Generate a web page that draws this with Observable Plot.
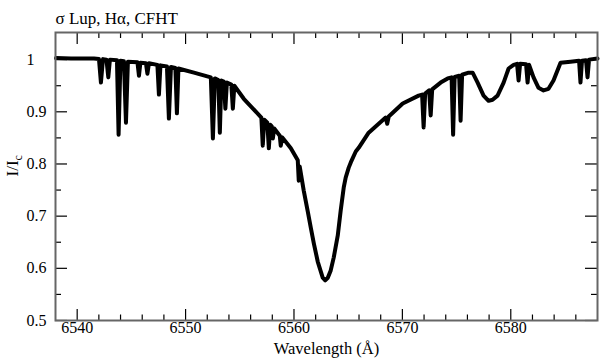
<!DOCTYPE html>
<html><head><meta charset="utf-8">
<script src="https://cdn.jsdelivr.net/npm/d3@7"></script>
<script src="https://cdn.jsdelivr.net/npm/@observablehq/plot@0.6"></script>
<style>
html,body{margin:0;padding:0;background:#fff;}
#chart svg{display:block;}
</style>
</head><body><div id="chart"></div>
<script>
// Spectrum (wavelength in Å, normalised flux I/Ic)
const wavelength = [
6538.05,6539.43,6541.55,6542.01,6542.19,6542.38,6542.70,6542.87,6543.02,6543.67,
6543.82,6543.99,6544.31,6544.50,6544.68,6545.56,6545.70,6545.83,6546.34,6546.48,
6546.62,6547.40,6547.54,6547.68,6548.28,6548.46,6548.65,6549.06,6549.20,6549.34,
6550.77,6552.33,6552.52,6552.70,6553.02,6553.16,6553.30,6553.53,6553.67,6553.81,
6554.22,6554.36,6554.50,6555.37,6556.99,6557.12,6557.26,6557.54,6557.68,6557.82,
6557.95,6558.05,6558.18,6558.69,6558.78,6558.92,6559.71,6560.35,6560.44,6560.53,
6560.90,6561.27,6561.55,6561.83,6562.19,6562.47,6562.65,6562.88,6563.12,6563.39,
6563.67,6564.04,6564.31,6564.59,6564.77,6565.05,6565.24,6565.70,6565.97,6566.89,
6568.46,6568.60,6568.74,6570.03,6571.50,6571.82,6571.96,6572.10,6572.47,6572.61,
6572.75,6573.53,6574.18,6574.54,6574.68,6574.82,6575.24,6575.37,6575.51,6576.11,
6576.48,6576.94,6577.49,6577.95,6578.32,6578.78,6579.34,6579.80,6580.26,6580.58,
6580.72,6580.86,6581.41,6581.55,6581.69,6582.10,6582.56,6583.02,6583.48,6583.94,
6584.59,6585.51,6586.30,6586.43,6586.57,6586.94,6587.08,6587.22,6588.00
];
const flux = [
1.003,1.002,1.002,1.001,0.956,1.001,1.000,0.966,1.000,0.999,
0.856,0.998,0.997,0.879,0.996,0.995,0.969,0.994,0.993,0.973,
0.993,0.990,0.933,0.989,0.987,0.887,0.986,0.984,0.897,0.983,
0.975,0.966,0.849,0.964,0.961,0.860,0.960,0.958,0.906,0.956,
0.952,0.906,0.950,0.925,0.889,0.835,0.885,0.879,0.830,0.875,
0.872,0.849,0.868,0.854,0.835,0.851,0.830,0.807,0.768,0.795,
0.749,0.709,0.678,0.648,0.613,0.594,0.582,0.577,0.582,0.596,
0.621,0.663,0.711,0.755,0.774,0.793,0.803,0.824,0.831,0.860,
0.889,0.877,0.891,0.916,0.931,0.933,0.870,0.935,0.941,0.893,
0.943,0.956,0.964,0.966,0.856,0.967,0.969,0.883,0.971,0.975,
0.975,0.956,0.931,0.921,0.923,0.931,0.956,0.983,0.990,0.992,
0.960,0.992,0.991,0.956,0.990,0.966,0.946,0.941,0.944,0.960,
0.994,0.996,0.998,0.956,0.998,0.999,0.966,1.000,1.002
];

const xMajor = [6540, 6550, 6560, 6570, 6580];
const xMinor = [6542,6544,6546,6548,6552,6554,6556,6558,6562,6564,6566,6568,6572,6574,6576,6578,6582,6584,6586];
const yMajor = [0.5, 0.6, 0.7, 0.8, 0.9, 1.0];
const yMinor = [0.55, 0.65, 0.75, 0.85, 0.95];
const yTickLabels = ["0.5", "0.6", "0.7", "0.8", "0.9", "1"];
const xTickLabels = ["6540", "6550", "6560", "6570", "6580"];
const xDomain = [6538, 6588];
const yDomain = [0.5, 1.052];
const titleText = "σ Lup, Hα, CFHT";
const xLabelText = "Wavelength (Å)";
const yLabelMain = "I/I";
const yLabelSub = "c";

const spectrum = wavelength.map((w, i) => ({w, f: flux[i]}));
const xTicks = xMajor.map((v, i) => ({v, label: xTickLabels[i]}));
const yTicks = yMajor.map((v, i) => ({v, label: yTickLabels[i]}));
const font = "'Liberation Serif', 'Times New Roman', serif";

const W = 600, H = 364, mL = 55, mR = 3, mT = 32, mB = 44;
const fw = W - mL - mR, fh = H - mT - mB;
const tick = "#000";

const chart = Plot.plot({
  width: W,
  height: H,
  marginLeft: mL,
  marginRight: mR,
  marginTop: mT,
  marginBottom: mB,
  style: {fontFamily: font, fontSize: "16px", background: "#fff", color: "#000"},
  x: {domain: xDomain, label: null, axis: null},
  y: {domain: yDomain, label: null, axis: null},
  marks: [
    Plot.line(spectrum, {x: "w", y: "f", stroke: "#000", strokeWidth: 4, strokeLinejoin: "round", strokeLinecap: "round"}),
    // inward ticks on all four sides
    Plot.ruleX(xMajor, {x: d => d, insetTop: fh - 11, stroke: tick, strokeWidth: 1.2}),
    Plot.ruleX(xMinor, {x: d => d, insetTop: fh - 5.5, stroke: tick, strokeWidth: 1.2}),
    Plot.ruleX(xMajor, {x: d => d, insetBottom: fh - 12, stroke: tick, strokeWidth: 1.2}),
    Plot.ruleX(xMinor, {x: d => d, insetBottom: fh - 6, stroke: tick, strokeWidth: 1.2}),
    Plot.ruleY(yMajor, {y: d => d, insetRight: fw - 12, stroke: tick, strokeWidth: 1.2}),
    Plot.ruleY(yMinor, {y: d => d, insetRight: fw - 6, stroke: tick, strokeWidth: 1.2}),
    Plot.ruleY(yMajor, {y: d => d, insetLeft: fw - 12, stroke: tick, strokeWidth: 1.2}),
    Plot.ruleY(yMinor, {y: d => d, insetLeft: fw - 6, stroke: tick, strokeWidth: 1.2}),
    Plot.frame({stroke: "#666", strokeWidth: 2}),
    // tick labels
    Plot.text(xTicks, {x: "v", text: "label", frameAnchor: "bottom", dy: 12.5, fontSize: 16, letterSpacing: 0.4}),
    Plot.text(yTicks, {y: "v", text: "label", frameAnchor: "left", dx: -29, textAnchor: "start", fontSize: 16, letterSpacing: 0.4}),
    // title
    Plot.text([titleText], {frameAnchor: "top-left", dy: -21, textAnchor: "start", fontSize: 17, letterSpacing: 0.5}),
    // x label
    Plot.text([xLabelText], {frameAnchor: "bottom", dy: 33.5, fontSize: 16.5, letterSpacing: 0.6}),
    // y label
    Plot.text([yLabelMain], {frameAnchor: "left", dx: -43, rotate: -90, fontSize: 17, className: "ylab"})
  ]
});

document.getElementById("chart").appendChild(chart);

// add subscript to the y label
d3.select(chart).selectAll("g.ylab text").each(function() {
  const t = d3.select(this);
  const main = t.text();
  t.text(null);
  t.append("tspan").text(main);
  t.append("tspan").attr("dy", "0.3em").attr("font-size", "12px").text(yLabelSub);
});
</script>
</body></html>
